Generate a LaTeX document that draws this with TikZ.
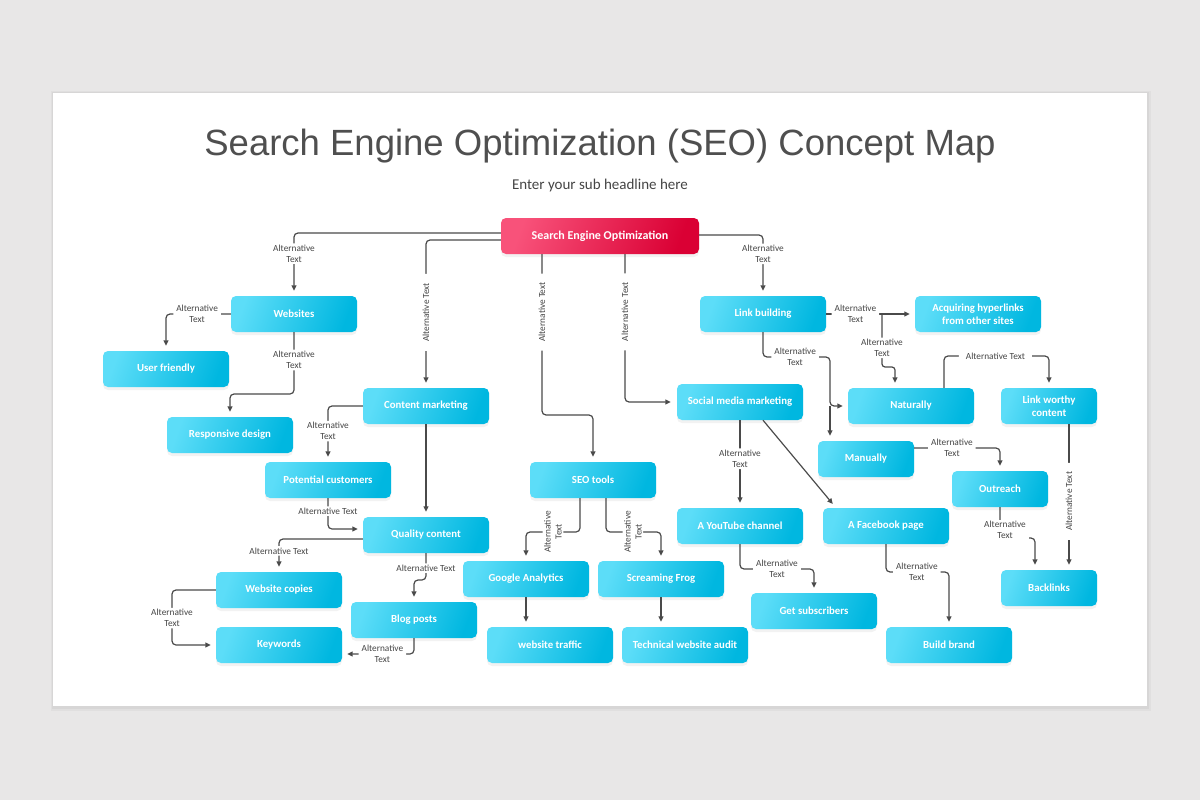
\documentclass[tikz,border=0pt]{standalone}
\usepackage{fontspec}
\setmainfont{Carlito}
\newfontfamily\titlefont{Liberation Sans}
\usetikzlibrary{arrows.meta,shadows}
\definecolor{bg}{HTML}{E8E7E7}
\definecolor{boxL}{HTML}{5CDDF8}
\definecolor{boxR}{HTML}{00B7E0}
\definecolor{pinkL}{HTML}{F8527A}
\definecolor{pinkR}{HTML}{DA0034}
\definecolor{ln}{HTML}{4A4A4A}
\definecolor{tx}{HTML}{454545}
\definecolor{ttl}{HTML}{4F4F4F}
\begin{document}
\begin{tikzpicture}[x=1pt,y=-1pt,
  cbox/.style={rounded corners=5pt, left color=boxL, right color=boxR, shading angle=70,
    text=white, font=\bfseries\fontsize{10.8}{12.5}\selectfont, align=center,
    minimum width=126pt, minimum height=36pt, inner sep=2pt,
    drop shadow={opacity=0.10, shadow xshift=0pt, shadow yshift=-3pt}},
  pbox/.style={cbox, left color=pinkL, right color=pinkR, shading angle=70,
    font=\bfseries\fontsize{12}{14}\selectfont},
  conn/.style={draw=ln, line width=1.2pt, rounded corners=4pt,
    -{Triangle[length=5.5pt,width=5pt]}, shorten >=5pt},
  lab/.style={fill=white, text=tx, font=\fontsize{9.3}{11}\selectfont, align=center,
    inner xsep=3pt, inner ysep=1.5pt},
  labo/.style={lab, inner xsep=7pt},
  labr/.style={lab, rotate=90, inner xsep=9pt},
  labrr/.style={lab, rotate=90}
]
\useasboundingbox (0,0) rectangle (1200,800);
\fill[bg] (0,0) rectangle (1200,800);
% card with soft shadow
\fill[black, opacity=0.03] (51,91) rectangle (1151,711);
\fill[black, opacity=0.04] (52,92) rectangle (1149,709);
\fill[white] (53,93) rectangle (1147,706);

\node[font=\titlefont\fontsize{36.5}{40}\selectfont, text=ttl, anchor=base] (title) at (600,155) {Search Engine Optimization (SEO) Concept Map};
\node[font=\fontsize{15}{17}\selectfont, text=tx, anchor=base] (sub) at (600,189.5) {Enter your sub headline here};

% nodes
\node[pbox, minimum width=198pt] (seo) at (600,236) {Search Engine Optimization};
\node[cbox] (web) at (294,314) {Websites};
\node[cbox] (uf) at (166,369) {User friendly};
\node[cbox] (rd) at (230,435) {Responsive design};
\node[cbox] (cm) at (426,406) {Content marketing};
\node[cbox] (pc) at (328,480) {Potential customers};
\node[cbox] (qc) at (426,535) {Quality content};
\node[cbox] (wc) at (279,590) {Website copies};
\node[cbox] (kw) at (279,645) {Keywords};
\node[cbox] (bp) at (414,620) {Blog posts};
\node[cbox] (st) at (593,480) {SEO tools};
\node[cbox] (ga) at (526,579) {Google Analytics};
\node[cbox] (sf) at (661,579) {Screaming Frog};
\node[cbox] (wt) at (550,645) {website traffic};
\node[cbox] (ta) at (685,645) {Technical website audit};
\node[cbox] (lb) at (763,314) {Link building};
\node[cbox] (ah) at (978,314) {Acquiring hyperlinks\\from other sites};
\node[cbox] (smm) at (740,402) {Social media marketing};
\node[cbox] (nat) at (911,406) {Naturally};
\node[cbox, minimum width=96pt] (lwc) at (1049,406) {Link worthy\\content};
\node[cbox, minimum width=96pt] (man) at (866,459) {Manually};
\node[cbox, minimum width=96pt] (out) at (1000,489) {Outreach};
\node[cbox] (yt) at (740,526) {A YouTube channel};
\node[cbox] (fb) at (886,526) {A Facebook page};
\node[cbox] (gs) at (814,611) {Get subscribers};
\node[cbox] (bb) at (949,645) {Build brand};
\node[cbox, minimum width=96pt] (bl) at (1049,588) {Backlinks};

% connectors from SEO
\draw[conn] (seo.west |- 0,233) -- (web.north |- 0,233) -- node[lab, pos=0.33] {Alternative\\Text} (web.north);
\draw[conn] (seo.west |- 0,240) -- (cm.north |- 0,240) -- node[labr, pos=0.49] {Alternative Text} (cm.north);
\draw[conn] (seo.south -| 542,0) -- node[labr, pos=0.36] {Alternative Text} (542,415) -- (st.north |- 0,415) -- (st.north);
\draw[conn, shorten >=6pt] (seo.south -| 625,0) -- node[labr, pos=0.39] {Alternative Text} (smm.west -| 625,0) -- (smm.west);
\draw[conn] (seo.east |- 0,235) -- (lb.north |- 0,235) -- node[lab, pos=0.31] {Alternative\\Text} (lb.north);

% websites branch
\draw[conn] (web.west) -- node[lab, pos=0.52] {Alternative\\Text} (uf.north |- web.west) -- (uf.north);
\draw[conn] (web.south) -- node[lab, pos=0.45] {Alternative\\Text} (web.south |- 0,394) -- (rd.north |- 0,394) -- (rd.north);

% content marketing branch
\draw[conn] (cm.west) -- (pc.north |- cm.west) -- node[lab, pos=0.45] {Alternative\\Text} (pc.north);
\draw[conn] (cm.south) -- (qc.north);
\draw[conn] (pc.south) -- node[labo, pos=0.42] {Alternative Text} (pc.south |- 0,529) -- (qc.west |- 0,529);
\draw[conn] (qc.west |- 0,539) -- (wc.north |- 0,539) -- node[labo, pos=0.36] {Alternative Text} (wc.north);
\draw[conn] (qc.south) -- node[labo, pos=0.56] {Alternative Text} (qc.south |- 0,580) -- (bp.north |- 0,580) -- (bp.north);
\draw[conn] (wc.west) -- (wc.west -| 172,0) -- node[lab, pos=0.51] {Alternative\\Text} (kw.west -| 172,0) -- (kw.west);
\draw[conn] (bp.south) -- (bp.south |- 0,654) -- node[lab, pos=0.44] {Alternative\\Text} (kw.east |- 0,654);

% SEO tools branch
\draw[conn] (st.south -| 580,0) -- (580,532) -- node[labrr, pos=0.5] {Alternative\\Text} (ga.north |- 0,532) -- (ga.north);
\draw[conn] (st.south -| 606,0) -- (606,532) -- node[labrr, pos=0.49] {Alternative\\Text} (sf.north |- 0,532) -- (sf.north);
\draw[conn] (ga.south) -- (ga.south |- wt.north);
\draw[conn] (sf.south) -- (sf.south |- ta.north);

% social media branch
\draw[conn] (smm.south) -- node[lab, pos=0.44] {Alternative\\Text} (yt.north);
\draw[conn, rounded corners=0pt] (smm.south -| 763,0) -- (fb.north -| 836,0);
\draw[conn] (yt.south) -- (yt.south |- 0,569) -- node[lab, pos=0.5] {Alternative\\Text} (gs.north |- 0,569) -- (gs.north);
\draw[conn] (fb.south) -- (fb.south |- 0,572) -- node[lab, pos=0.49] {Alternative\\Text} (bb.north |- 0,572) -- (bb.north);

% link building branch
\coordinate (jl) at (830,406);
\coordinate (ja) at (882,314);
\draw[conn] (lb.south) -- (lb.south |- 0,357) -- node[lab, pos=0.48] {Alternative\\Text} (jl |- 0,357) -- (jl) -- (nat.west);
\draw[conn] (jl) -- (jl |- man.north);
\draw[conn] (lb.east) -- node[lab, pos=0.33] {Alternative\\Text} (ah.west);
\draw[conn, rounded corners=3pt] (ja) -- node[lab, pos=0.64] {Alternative\\Text} (882,367) -- (895,367) -- (nat.north -| 895,0);
\draw[conn] (nat.north -| 944,0) -- (944,356) -- node[labo, pos=0.49] {Alternative Text} (lwc.north |- 0,356) -- (lwc.north);
\draw[conn] (man.east |- 0,448) -- node[lab, pos=0.44] {Alternative\\Text} (out.north |- 0,448) -- (out.north);
\draw[conn] (lwc.south -| 1069,0) -- node[labr, pos=0.53] {Alternative Text} (bl.north -| 1069,0);
\draw[conn] (out.south) -- (out.south |- 0,538) -- (1035,538) -- (bl.north -| 1035,0);
\node[lab] (lout) at (1005,530) {Alternative\\Text};
\end{tikzpicture}
\end{document}
